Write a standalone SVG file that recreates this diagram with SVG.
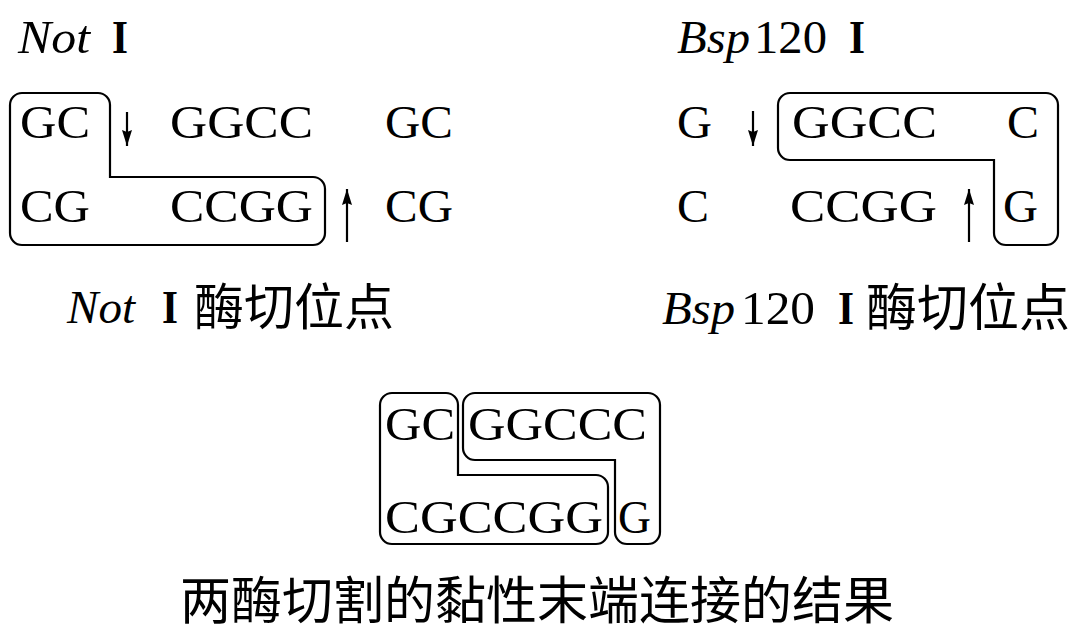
<svg xmlns="http://www.w3.org/2000/svg" width="1080" height="644" viewBox="0 0 1080 644">
<style>
.b{font-family:"Liberation Serif","Times New Roman",serif;font-size:47px;fill:#000}
.t{font-family:"Liberation Serif","Times New Roman",serif;font-size:47px;fill:#000}
.i{font-style:italic}
.r{font-weight:bold}
.c{font-family:"Noto Sans CJK SC","Noto Sans CJK TC",sans-serif;font-size:50px;fill:#000}
.box{fill:none;stroke:#000;stroke-width:2.2;stroke-linejoin:miter}
.arr{stroke:#000;stroke-width:2.2;fill:none}
</style>
<defs>
<marker id="ah" viewBox="0 0 16 10" refX="16" refY="5" markerWidth="16" markerHeight="10" markerUnits="userSpaceOnUse" orient="auto">
<path d="M0,0 L16,5 L0,10 L2,5 Z" fill="#000"/>
</marker>
</defs>

<g id="notI">
<text class="t" y="53"><tspan class="i" x="18" textLength="72" lengthAdjust="spacingAndGlyphs">Not</tspan><tspan class="r" x="112" textLength="16" lengthAdjust="spacingAndGlyphs">I</tspan></text>
<text class="b" x="20" y="138" textLength="70" lengthAdjust="spacingAndGlyphs">GC</text>
<text class="b" x="170" y="138" textLength="143" lengthAdjust="spacingAndGlyphs">GGCC</text>
<text class="b" x="385" y="138" textLength="68" lengthAdjust="spacingAndGlyphs">GC</text>
<text class="b" x="20" y="222" textLength="70" lengthAdjust="spacingAndGlyphs">CG</text>
<text class="b" x="170" y="222" textLength="143" lengthAdjust="spacingAndGlyphs">CCGG</text>
<text class="b" x="385" y="222" textLength="68" lengthAdjust="spacingAndGlyphs">CG</text>
<path class="box" d="M10,105 A12,12 0 0 1 22,93 H98 A12,12 0 0 1 110,105 V177 H313 A12,12 0 0 1 325,189 V233 A12,12 0 0 1 313,245 H22 A12,12 0 0 1 10,233 Z"/>
<text class="t" y="323"><tspan class="i" x="67" textLength="68" lengthAdjust="spacingAndGlyphs">Not</tspan><tspan class="r" x="162" textLength="16" lengthAdjust="spacingAndGlyphs">I</tspan></text>
<text class="c" x="194" y="325">酶切位点</text>
</g>

<g id="bsp120I">
<text class="t" y="53"><tspan class="i" x="677" textLength="73" lengthAdjust="spacingAndGlyphs">Bsp</tspan><tspan x="754" textLength="73" lengthAdjust="spacingAndGlyphs">120</tspan><tspan class="r" x="849" textLength="16" lengthAdjust="spacingAndGlyphs">I</tspan></text>
<text class="b" x="677" y="138" textLength="35" lengthAdjust="spacingAndGlyphs">G</text>
<text class="b" x="792" y="138" textLength="145" lengthAdjust="spacingAndGlyphs">GGCC</text>
<text class="b" x="1007" y="138" textLength="32" lengthAdjust="spacingAndGlyphs">C</text>
<text class="b" x="677" y="222" textLength="32" lengthAdjust="spacingAndGlyphs">C</text>
<text class="b" x="790" y="222" textLength="147" lengthAdjust="spacingAndGlyphs">CCGG</text>
<text class="b" x="1003" y="222" textLength="35" lengthAdjust="spacingAndGlyphs">G</text>
<path class="box" d="M778,105 A12,12 0 0 1 790,93 H1046 A12,12 0 0 1 1058,105 V233 A12,12 0 0 1 1046,245 H1006 A12,12 0 0 1 994,233 V160 H790 A12,12 0 0 1 778,148 Z"/>
<text class="t" y="324"><tspan class="i" x="662" textLength="73" lengthAdjust="spacingAndGlyphs">Bsp</tspan><tspan x="741" textLength="74" lengthAdjust="spacingAndGlyphs">120</tspan><tspan class="r" x="838" textLength="16" lengthAdjust="spacingAndGlyphs">I</tspan></text>
<text class="c" x="866" y="326" style="font-size:51px">酶切位点</text>
</g>

<g id="result">
<text class="b" x="385" y="440" textLength="70" lengthAdjust="spacingAndGlyphs">GC</text>
<text class="b" x="468" y="440" textLength="179" lengthAdjust="spacingAndGlyphs">GGCCC</text>
<text class="b" x="385" y="533" textLength="218" lengthAdjust="spacingAndGlyphs">CGCCGG</text>
<text class="b" x="618" y="533" textLength="33" lengthAdjust="spacingAndGlyphs">G</text>
<path class="box" d="M380,405 A12,12 0 0 1 392,393 H446 A12,12 0 0 1 458,405 V475 H596 A12,12 0 0 1 608,487 V532 A12,12 0 0 1 596,544 H392 A12,12 0 0 1 380,532 Z"/>
<path class="box" d="M463,405 A12,12 0 0 1 475,393 H648 A12,12 0 0 1 660,405 V532 A12,12 0 0 1 648,544 H627 A12,12 0 0 1 615,532 V460 H475 A12,12 0 0 1 463,448 Z"/>
<text class="c" x="180" y="619" style="font-size:51px">两酶切割的黏性末端连接的结果</text>
</g>

<g id="connectors">
<line class="arr" x1="127" y1="112" x2="127" y2="146" marker-end="url(#ah)"/>
<line class="arr" x1="347" y1="242" x2="347" y2="189" marker-end="url(#ah)"/>
<line class="arr" x1="753" y1="111" x2="753" y2="146" marker-end="url(#ah)"/>
<line class="arr" x1="969" y1="242" x2="969" y2="189" marker-end="url(#ah)"/>
</g>
</svg>
